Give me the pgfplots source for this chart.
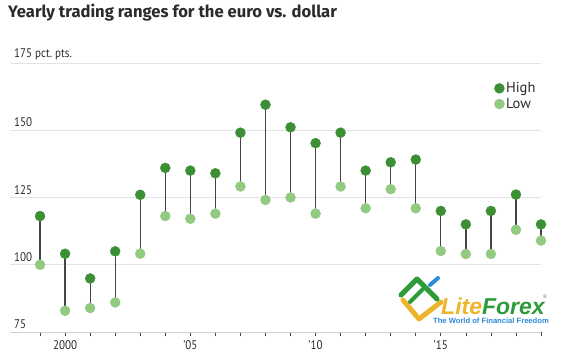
\documentclass[border=0pt]{standalone}
\usepackage{pgfplots}
\pgfplotsset{compat=1.18}
\usepackage{pgfplotstable}
\usepackage{fontspec}
\setmainfont{PT Sans}[FakeStretch=0.88]
\newfontfamily\legfont{PT Sans}
\newfontfamily\titlefont{Fira Sans}
\newfontfamily\logofont{Liberation Sans}
\definecolor{hi}{HTML}{3D8F35}
\definecolor{lo}{HTML}{93CA82}
\definecolor{stem}{HTML}{454545}
\definecolor{gridc}{HTML}{E4E1E8}
\definecolor{txt}{HTML}{2B2B2B}
\definecolor{lfgreen}{HTML}{2E9B3A}
\definecolor{lfyellow}{HTML}{EDB52C}
\definecolor{lfblue}{HTML}{2C8AD8}

\pgfplotstableread{
year high low
1999 118.1 100.0
2000 104.1 82.9
2001 94.9 83.9
2002 105.0 86.0
2003 126.0 104.1
2004 136.0 118.1
2005 135.0 117.1
2006 134.0 119.0
2007 149.1 129.1
2008 159.5 124.1
2009 151.1 125.0
2010 145.2 119.0
2011 149.1 129.1
2012 135.0 121.0
2013 138.1 128.1
2014 139.1 121.0
2015 120.0 105.1
2016 115.0 104.0
2017 120.0 104.0
2018 126.1 113.0
2019 115.0 109.0
}\data

\begin{document}
\begin{tikzpicture}[x=1pt,y=1pt]
\useasboundingbox (0,0) rectangle (571,-360);
\node[anchor=base west, inner sep=0, text=txt] at (8,-17.5)
  {\titlefont\bfseries\fontsize{16.6}{19}\selectfont Yearly trading ranges for the euro vs. dollar};
% watermark
\draw[line width=5pt, lfyellow, line cap=round, line join=round] (403,-300)--(419,-319)--(441,-302);
\draw[line width=5pt, lfgreen, line cap=round, line join=round] (401,-295)--(417,-279)--(437,-299);
\draw[line width=4pt, lfgreen, line cap=round] (410,-302)--(424,-288);
\draw[line width=4pt, lfblue, line cap=round] (430,-285)--(438,-278);
\node[anchor=base west, inner sep=0] at (441,-314)
  {\logofont\bfseries\itshape\fontsize{23}{25}\selectfont\textcolor{lfyellow}{Lite}\textcolor{lfgreen}{Forex}};
\node[anchor=base west, inner sep=0, text=lfgreen!60!red] at (543,-298) {\logofont\fontsize{5}{6}\selectfont\textregistered};
\node[anchor=base west, inner sep=0, text=lfblue] at (433,-323.5)
  {\logofont\bfseries\fontsize{7.6}{9}\selectfont The World of Financial Freedom};
\begin{axis}[
  at={(10pt,-332pt)}, anchor=south west,
  scale only axis, width=531pt, height=269pt,
  xmin=1997.8, xmax=2019, ymin=75, ymax=175,
  clip=false,
  axis x line*=bottom, axis y line*=left,
  x axis line style={draw=gridc!80!gray, line width=0.8pt},
  y axis line style={draw=none},
  ymajorgrids, grid style={draw=gridc, line width=0.8pt},
  xtick={1999,...,2019},
  xticklabels={,2000,,,,,'05,,,,,'10,,,,,'15,,,,},
  tick align=outside,
  xtick style={draw=stem, line width=0.6pt},
  major tick length=4pt,
  ytick={75,100,125,150,175},
  yticklabels={75,100,125,150,175 pct.\ pts.},
  ytick style={draw=none},
  yticklabel style={anchor=south west, inner sep=0pt, xshift=8pt, yshift=3pt},
  xticklabel style={yshift=-1pt},
  tick label style={font=\fontsize{12.5}{14}\selectfont, text=txt},
  /pgf/number format/assume math mode=true,
  legend style={draw=none, fill=none, at={(0.9115,0.934)}, anchor=north west,
    font=\legfont\fontsize{14.5}{16}\selectfont, row sep=1pt, inner sep=0pt,
    nodes={inner sep=1.5pt, text=txt}},
  legend cell align=left,
  legend image code/.code={\fill[#1] (0,0) circle (5pt);},
]
\addplot[draw=none, forget plot,
  error bars/.cd, y dir=minus, y explicit,
  error bar style={line width=1.3pt, color=stem}, error mark=none]
  table[x=year, y=high, y error minus expr=\thisrow{high}-\thisrow{low}] {\data};
\addplot[only marks, mark=*, mark size=5pt, color=hi] table[x=year, y=high] {\data};
\addlegendentry{High}
\addplot[only marks, mark=*, mark size=5pt, color=lo] table[x=year, y=low] {\data};
\addlegendentry{Low}
\end{axis}
\end{tikzpicture}
\end{document}
